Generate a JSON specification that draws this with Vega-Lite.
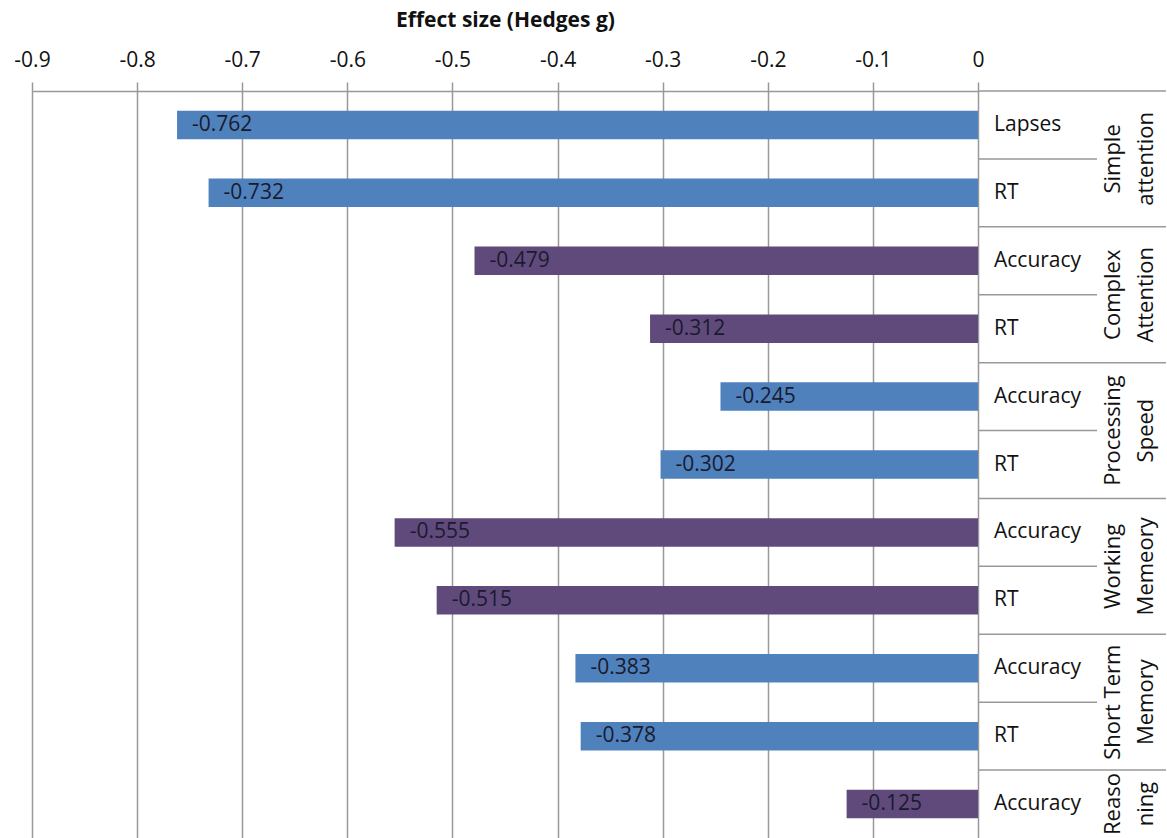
{
  "$schema": "https://vega.github.io/schema/vega-lite/v6.json",
  "background": "white",
  "padding": {"left": 13, "top": 9, "right": 0, "bottom": 0},
  "bounds": "flush",
  "config": {
    "view": {"stroke": null},
    "font": "Open Sans",
    "locale": {"number": {"decimal": ".", "thousands": ",", "grouping": [3], "currency": ["$", ""], "minus": "-"}},
    "concat": {"spacing": 0}
  },
  "datasets": {
    "effects": [
      {"measure": "Simple attention: Lapses", "group": "Simple\nattention", "sub": "Lapses", "g": -0.762},
      {"measure": "Simple attention: RT", "group": "Simple\nattention", "sub": "RT", "g": -0.732},
      {"measure": "Complex Attention: Accuracy", "group": "Complex\nAttention", "sub": "Accuracy", "g": -0.479},
      {"measure": "Complex Attention: RT", "group": "Complex\nAttention", "sub": "RT", "g": -0.312},
      {"measure": "Processing Speed: Accuracy", "group": "Processing\nSpeed", "sub": "Accuracy", "g": -0.245},
      {"measure": "Processing Speed: RT", "group": "Processing\nSpeed", "sub": "RT", "g": -0.302},
      {"measure": "Working Memeory: Accuracy", "group": "Working\nMemeory", "sub": "Accuracy", "g": -0.555},
      {"measure": "Working Memeory: RT", "group": "Working\nMemeory", "sub": "RT", "g": -0.515},
      {"measure": "Short Term Memory: Accuracy", "group": "Short Term\nMemory", "sub": "Accuracy", "g": -0.383},
      {"measure": "Short Term Memory: RT", "group": "Short Term\nMemory", "sub": "RT", "g": -0.378},
      {"measure": "Reasoning: Accuracy", "group": "Reaso\nning", "sub": "Accuracy", "g": -0.125}
    ]
  },
  "resolve": {"scale": {"y": "shared"}},
  "hconcat": [
    {
      "width": 946,
      "height": 747,
      "data": {"name": "effects"},
      "encoding": {
        "y": {"field": "measure", "type": "nominal", "sort": null, "axis": null,
              "scale": {"paddingInner": 0, "paddingOuter": 0}}
      },
      "layer": [
        {
          "mark": {"type": "bar", "height": {"band": 0.42}},
          "encoding": {
            "x": {"field": "g", "type": "quantitative",
                  "scale": {"domain": [-0.9, 0], "nice": false, "zero": false},
                  "axis": {
                    "orient": "top",
                    "title": "Effect size (Hedges g)",
                    "titleFont": "Open Sans", "titleFontSize": 21, "titleFontWeight": "bold", "titleColor": "#111",
                    "titlePadding": 19,
                    "values": [-0.9, -0.8, -0.7, -0.6, -0.5, -0.4, -0.3, -0.2, -0.1, 0],
                    "format": ".1~f",
                    "labelFont": "Open Sans", "labelFontSize": 21, "labelColor": "#111",
                    "labelPadding": 12, "labelFlush": false, "labelOverlap": false,
                    "domainColor": "#999", "domainWidth": 1.5,
                    "tickColor": "#999", "tickWidth": 1.5, "tickSize": 9,
                    "grid": true, "gridColor": "#999", "gridWidth": 1.5
                  }},
            "color": {"field": "group", "type": "nominal", "legend": null,
                      "scale": {"domain": ["Simple\nattention", "Complex\nAttention", "Processing\nSpeed", "Working\nMemeory", "Short Term\nMemory", "Reaso\nning"],
                                "range": ["#4F81BD", "#604A7B", "#4F81BD", "#604A7B", "#4F81BD", "#604A7B"]}}
          }
        },
        {
          "mark": {"type": "text", "align": "left", "baseline": "middle", "dx": 15, "fontSize": 21, "color": "#1a1a2e"},
          "encoding": {
            "x": {"field": "g", "type": "quantitative"},
            "text": {"field": "g", "type": "quantitative", "format": ".3f"}
          }
        }
      ]
    },
    {
      "width": 188,
      "height": 747,
      "data": {"name": "effects"},
      "encoding": {
        "y": {"field": "measure", "type": "nominal", "sort": null, "axis": null,
              "scale": {"paddingInner": 0, "paddingOuter": 0}}
      },
      "layer": [
        {
          "mark": {"type": "text", "align": "left", "baseline": "middle", "dx": 16, "fontSize": 21, "color": "#111"},
          "encoding": {
            "x": {"datum": 0, "type": "quantitative", "scale": {"domain": [0, 1], "nice": false}, "axis": null},
            "text": {"field": "sub", "type": "nominal"}
          }
        },
        {
          "transform": [{"filter": "datum.sub != 'RT'"}],
          "mark": {"type": "rule", "color": "#999", "strokeWidth": 1.5},
          "encoding": {
            "y": {"field": "measure", "type": "nominal", "sort": null, "bandPosition": 0},
            "x": {"datum": 0, "type": "quantitative"},
            "x2": {"datum": 1}
          }
        },
        {
          "transform": [{"filter": "datum.sub == 'RT'"}],
          "mark": {"type": "rule", "color": "#999", "strokeWidth": 1.5},
          "encoding": {
            "y": {"field": "measure", "type": "nominal", "sort": null, "bandPosition": 0},
            "x": {"datum": 0, "type": "quantitative"},
            "x2": {"datum": 0.633}
          }
        },
        {
          "transform": [{"filter": "datum.sub != 'RT' && datum.group != 'Reaso\\nning'"}],
          "mark": {"type": "text", "align": "center", "baseline": "middle", "angle": 270, "fontSize": 22, "lineHeight": 33, "lineBreak": "\n", "color": "#111"},
          "encoding": {
            "y": {"field": "measure", "type": "nominal", "sort": null, "bandPosition": 1},
            "x": {"datum": 0.717, "type": "quantitative"},
            "text": {"field": "group", "type": "nominal"}
          }
        },
        {
          "transform": [{"filter": "datum.group == 'Reaso\\nning'"}],
          "mark": {"type": "text", "align": "center", "baseline": "middle", "angle": 270, "fontSize": 22, "lineHeight": 33, "lineBreak": "\n", "color": "#111"},
          "encoding": {
            "y": {"field": "measure", "type": "nominal", "sort": null, "bandPosition": 0.5},
            "x": {"datum": 0.717, "type": "quantitative"},
            "text": {"field": "group", "type": "nominal"}
          }
        }
      ]
    }
  ]
}
